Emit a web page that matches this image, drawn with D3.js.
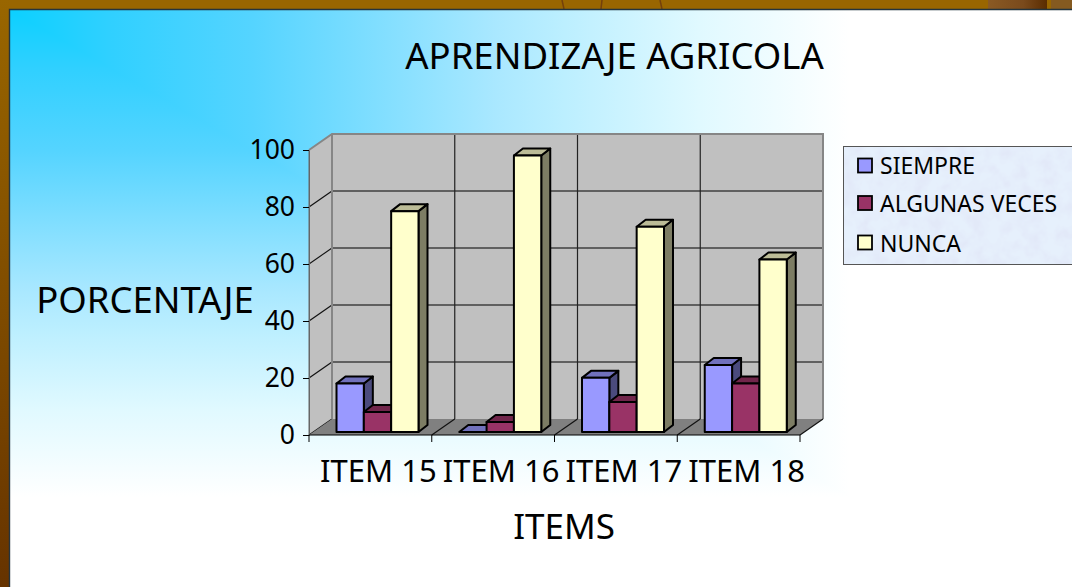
<!DOCTYPE html>
<html>
<head>
<meta charset="utf-8">
<script src="https://cdn.jsdelivr.net/npm/d3@7"></script>
<style>
  html, body { margin: 0; padding: 0; background: #fff; overflow: hidden; }
  svg { display: block; }
  text { font-family: "Noto Sans", sans-serif; fill: #000; }
</style>
</head>
<body>
<svg id="chart" width="1072" height="587"></svg>
<script>
  // --- Data ---
  const categories = ['ITEM 15', 'ITEM 16', 'ITEM 17', 'ITEM 18'];
  const seriesNames = ['SIEMPRE', 'ALGUNAS VECES', 'NUNCA'];
  const siempre = [17, 0, 19, 23.5];
  const algunasVeces = [7, 3.5, 10.5, 17];
  const nunca = [77.5, 97, 72, 60.5];
  const yTicks = [0, 20, 40, 60, 80, 100];
  const seriesColors = ['#9999ff', '#993366', '#ffffcc'];
  const seriesValues = [siempre, algunasVeces, nunca];

  const svg = d3.select('#chart');
  const defs = svg.append('defs');

  // --- Slide background ---
  // "from corner" fill: one gradient running right above the diagonal, one running down below it
  const bgStops = [[0, '#0cd0ff'], [0.12, '#30d0ff'], [0.29, '#55d4ff'], [0.58, '#aae8ff'], [0.66, '#bcefff'], [0.82, '#e0f9ff'], [1, '#ffffff']];
  const bgRight = defs.append('linearGradient').attr('id', 'bgRight')
    .attr('gradientUnits', 'userSpaceOnUse')
    .attr('x1', 10).attr('y1', 0).attr('x2', 850).attr('y2', 0);
  const bgDown = defs.append('linearGradient').attr('id', 'bgDown')
    .attr('gradientUnits', 'userSpaceOnUse')
    .attr('x1', 0).attr('y1', 10).attr('x2', 0).attr('y2', 497);
  [bgRight, bgDown].forEach(g => {
    bgStops.forEach(s => g.append('stop').attr('offset', s[0]).attr('stop-color', s[1]));
  });

  const frameLeft = defs.append('linearGradient').attr('id', 'frameLeft')
    .attr('x1', 0).attr('y1', 0).attr('x2', 0).attr('y2', 1);
  frameLeft.append('stop').attr('offset', 0).attr('stop-color', '#996600');
  frameLeft.append('stop').attr('offset', 1).attr('stop-color', '#663300');

  const wood = defs.append('linearGradient').attr('id', 'wood');
  wood.append('stop').attr('offset', 0).attr('stop-color', '#8a5a24');
  wood.append('stop').attr('offset', 0.6).attr('stop-color', '#7a4a1c');
  wood.append('stop').attr('offset', 1).attr('stop-color', '#5a2c00');

  const mottle = defs.append('filter').attr('id', 'mottle')
    .attr('x', 0).attr('y', 0).attr('width', 1).attr('height', 1);
  mottle.append('feTurbulence').attr('type', 'fractalNoise')
    .attr('baseFrequency', 0.07).attr('numOctaves', 3).attr('seed', 4).attr('result', 'n');
  mottle.append('feColorMatrix').attr('in', 'n').attr('type', 'matrix')
    .attr('values', '0 0 0 0 0.76  0 0 0 0 0.81  0 0 0 0 0.94  2.4 0 0 0 -0.9')
    .attr('result', 'c');
  mottle.append('feComposite').attr('in', 'c').attr('in2', 'SourceGraphic').attr('operator', 'atop');

  svg.append('rect').attr('width', 1072).attr('height', 587).attr('fill', '#fff');
  // full rect underneath so the diagonal join leaves no seam
  svg.append('rect').attr('x', 10).attr('y', 10).attr('width', 840).attr('height', 487).attr('fill', 'url(#bgRight)');
  svg.append('polygon').attr('points', '10,10 850,497 10,497').attr('fill', 'url(#bgDown)');
  svg.append('rect').attr('width', 1072).attr('height', 9).attr('fill', '#996600');
  svg.append('rect').attr('width', 9).attr('height', 587).attr('fill', 'url(#frameLeft)');
  svg.append('rect').attr('x', 988).attr('width', 59).attr('height', 9).attr('fill', 'url(#wood)');
  svg.append('rect').attr('x', 1051).attr('width', 21).attr('height', 9).attr('fill', '#855a20');
  [[562, 564], [602, 601], [660, 662]].forEach(l => {
    svg.append('line').attr('x1', l[0]).attr('y1', 0).attr('x2', l[1]).attr('y2', 9)
      .attr('stroke', '#74400c').attr('stroke-width', 1.5);
  });
  svg.append('path').attr('d', 'M9.5,587V9.5H1072').attr('fill', 'none')
    .attr('stroke', '#23343f').attr('stroke-width', 1.4);

  // --- Scales ---
  const depthX = 23;
  const depthY = -16;
  const barDepthX = 9;
  const barDepthY = -7;
  const barShiftY = -3;

  const x = d3.scaleBand().domain(categories).range([309, 800]);
  const y = d3.scaleLinear().domain([0, 100]).range([435, 150]);
  const xInner = d3.scaleBand().domain(seriesNames).range([27.5, 109.5]);

  const chart = svg.append('g');

  // --- 3D walls ---
  const x0 = x.range()[0], x1 = x.range()[1];
  const wallTop = y(100), wallBottom = y(0);
  const poly = pts => pts.map(p => p.join(',')).join(' ');

  chart.append('polygon').attr('fill', '#c0c0c0')
    .attr('points', poly([[x0, wallBottom], [x0, wallTop], [x0 + depthX, wallTop + depthY], [x0 + depthX, wallBottom + depthY]]));
  chart.append('polygon').attr('fill', '#c0c0c0')
    .attr('points', poly([[x0 + depthX, wallTop + depthY], [x1 + depthX, wallTop + depthY], [x1 + depthX, wallBottom + depthY], [x0 + depthX, wallBottom + depthY]]));

  // grid on back and side wall
  yTicks.slice(1, -1).forEach(t => {
    chart.append('line').attr('x1', x0 + depthX).attr('x2', x1 + depthX)
      .attr('y1', y(t) + depthY).attr('y2', y(t) + depthY)
      .attr('stroke', '#404040').attr('stroke-width', 1.5);
  });
  categories.slice(1).forEach(c => {
    chart.append('line').attr('x1', x(c) + depthX).attr('x2', x(c) + depthX)
      .attr('y1', wallTop + depthY).attr('y2', wallBottom + depthY)
      .attr('stroke', '#222').attr('stroke-width', 1.2);
  });
  yTicks.slice(0, -1).forEach(t => {
    chart.append('line').attr('x1', x0).attr('x2', x0 + depthX)
      .attr('y1', y(t)).attr('y2', y(t) + depthY)
      .attr('stroke', '#111').attr('stroke-width', 1.1);
  });

  // wall outline
  chart.append('path').attr('fill', 'none').attr('stroke', '#868686').attr('stroke-width', 2)
    .attr('d', `M${x0},${wallTop}L${x0 + depthX},${wallTop + depthY}H${x1 + depthX}V${wallBottom + depthY}`);
  chart.append('line').attr('x1', x0 + depthX).attr('x2', x0 + depthX)
    .attr('y1', wallTop + depthY).attr('y2', wallBottom + depthY)
    .attr('stroke', '#868686').attr('stroke-width', 2);
  chart.append('line').attr('x1', x0).attr('x2', x0)
    .attr('y1', wallTop).attr('y2', wallBottom)
    .attr('stroke', '#666').attr('stroke-width', 1);

  // floor
  chart.append('polygon').attr('fill', '#808080')
    .attr('points', poly([[x0, wallBottom], [x0 + depthX, wallBottom + depthY], [x1 + depthX, wallBottom + depthY], [x1, wallBottom]]));
  categories.slice(1).concat([null]).forEach(c => {
    const px = c ? x(c) : x1;
    chart.append('line').attr('x1', px).attr('x2', px + depthX)
      .attr('y1', wallBottom).attr('y2', wallBottom + depthY)
      .attr('stroke', '#111').attr('stroke-width', 1.1);
  });

  // --- Bars ---
  categories.forEach((cat, ci) => {
    seriesNames.forEach((name, si) => {
      const v = seriesValues[si][ci];
      const color = d3.color(seriesColors[si]);
      const bx = x(cat) + xInner(name);
      const bw = xInner.bandwidth();
      const by = y(v) + barShiftY;
      const bb = y(0) + barShiftY;
      const g = chart.append('g').attr('stroke', '#000').attr('stroke-width', 2).attr('stroke-linejoin', 'round');
      // side face
      g.append('polygon').attr('fill', color.darker(2))
        .attr('points', poly([[bx + bw, by], [bx + bw + barDepthX, by + barDepthY], [bx + bw + barDepthX, bb + barDepthY], [bx + bw, bb]]));
      // top face
      g.append('polygon').attr('fill', color.darker(0.85))
        .attr('points', poly([[bx, by], [bx + barDepthX, by + barDepthY], [bx + bw + barDepthX, by + barDepthY], [bx + bw, by]]));
      // front face
      g.append('rect').attr('x', bx).attr('y', by).attr('width', bw).attr('height', bb - by)
        .attr('fill', color);
    });
  });

  // --- Axes ---
  const yAxis = d3.axisLeft(y).tickValues(yTicks).tickSize(6).tickPadding(8).tickSizeOuter(0);
  const yG = chart.append('g').attr('transform', `translate(${x0},0)`).call(yAxis);
  yG.select('.domain').attr('stroke', '#666');
  yG.selectAll('.tick line').attr('stroke', '#000');
  yG.selectAll('text').attr('font-size', 26.5).attr('font-family', '"Noto Sans", sans-serif');

  const xAxis = d3.axisBottom(x).tickSize(0).tickPadding(25);
  const xG = chart.append('g').attr('transform', `translate(0,${wallBottom})`).call(xAxis);
  xG.select('.domain').remove();
  xG.selectAll('text').attr('font-size', 31).attr('dx', 8).attr('font-family', '"Noto Sans", sans-serif');
  [x0].concat(categories.map(c => x(c) + x.bandwidth())).forEach(px => {
    chart.append('line').attr('x1', px).attr('x2', px)
      .attr('y1', wallBottom).attr('y2', wallBottom + 7).attr('stroke', '#000');
  });
  chart.append('line').attr('x1', x0).attr('x2', x1).attr('y1', wallBottom).attr('y2', wallBottom)
    .attr('stroke', '#000').attr('stroke-width', 1);

  // --- Titles ---
  svg.append('text').attr('x', 614.5).attr('y', 69).attr('text-anchor', 'middle')
    .attr('font-size', 36.5).text('APRENDIZAJE AGRICOLA');
  svg.append('text').attr('x', 145).attr('y', 313).attr('text-anchor', 'middle')
    .attr('font-size', 36.5).text('PORCENTAJE');
  svg.append('text').attr('x', 564).attr('y', 539).attr('text-anchor', 'middle')
    .attr('font-size', 35).text('ITEMS');

  // --- Legend ---
  const legendRows = [165.5, 203, 242.5];
  const legendBaselines = [173.7, 211.7, 251.7];
  const legend = svg.append('g');
  legend.append('rect').attr('x', 843.5).attr('y', 146.5).attr('width', 240).attr('height', 118)
    .attr('fill', '#e6f0fc').attr('filter', 'url(#mottle)');
  legend.append('rect').attr('x', 843.5).attr('y', 146.5).attr('width', 240).attr('height', 118)
    .attr('fill', 'none').attr('stroke', '#555').attr('stroke-width', 1);
  seriesNames.forEach((name, i) => {
    legend.append('rect').attr('x', 858).attr('y', legendRows[i] - 7).attr('width', 14).attr('height', 14)
      .attr('fill', seriesColors[i]).attr('stroke', '#000').attr('stroke-width', 1.8);
    legend.append('text').attr('x', 880).attr('y', legendBaselines[i])
      .attr('font-size', 23).text(name);
  });
</script>
</body>
</html>
